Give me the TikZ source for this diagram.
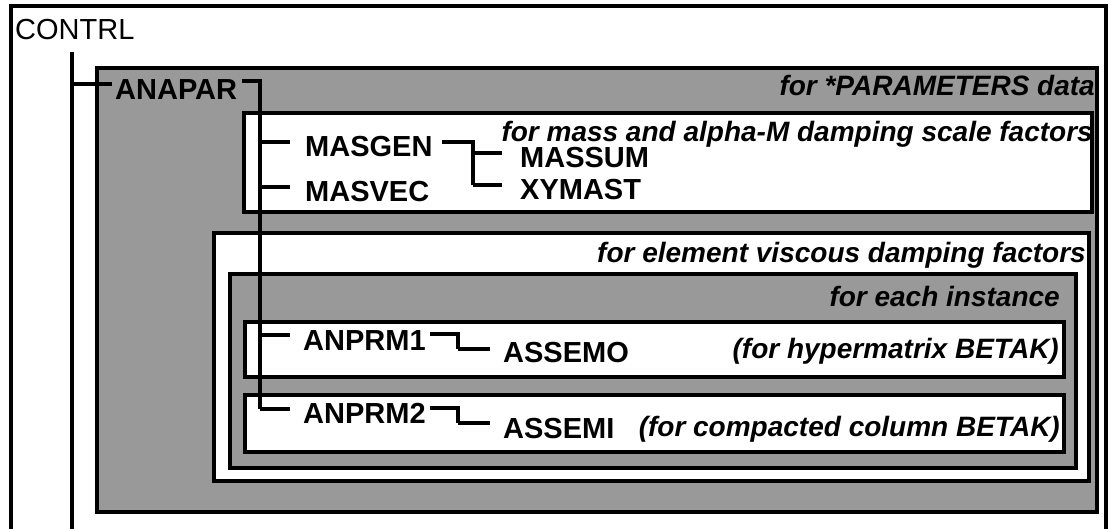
\documentclass[tikz,border=0pt]{standalone}
\usepackage{fontspec}
\setmainfont{Liberation Sans}
\begin{document}
\begin{tikzpicture}[x=1pt,y=-1pt,
  frame/.style={draw=black,line width=3.6pt},
  shadebox/.style={frame,fill=black!40},
  blankbox/.style={frame,fill=white},
  wire/.style={line width=3.2pt},
  modname/.style={font=\fontsize{29}{30}\selectfont\bfseries,inner sep=0pt,anchor=base west},
  topname/.style={font=\fontsize{29}{30}\selectfont,inner sep=0pt,anchor=base west},
  note/.style={font=\fontsize{28}{30}\selectfont\bfseries\itshape,inner sep=0pt,anchor=base east}]
\useasboundingbox (0,0) rectangle (1111,529);
\fill[white] (0,0) rectangle (1111,529);
% outer frame (open at the bottom)
\draw[frame,line width=3.2pt] (11,529) -- (11,6) -- (1106,6) -- (1106,529);
% boxes
\draw[shadebox] (97,68) rectangle (1097,512);
\draw[blankbox] (244,113) rectangle (1092,212);
\draw[blankbox] (214,233) rectangle (1089,481);
\draw[shadebox] (230,274) rectangle (1076,468);
\draw[blankbox] (245,322) rectangle (1064,377);
\draw[blankbox] (245,395) rectangle (1064,452);
% texts
\node[topname] (CONTRL) at (15,40) {CONTRL};
\node[modname] (ANAPAR) at (115,100) {ANAPAR};
\node[note] (nparam) at (1095,96) {for *PARAMETERS data};
\node[modname] (MASGEN) at (305,157) {MASGEN};
\node[modname] (MASVEC) at (305,202) {MASVEC};
\node[modname] (MASSUM) at (520,168) {MASSUM};
\node[modname] (XYMAST) at (520,200) {XYMAST};
\node[note] (nmass) at (1093,142) {for mass and alpha-M damping scale factors};
\node[note] (nelem) at (1086,263) {for element viscous damping factors};
\node[note] (ninst) at (1060,306) {for each instance};
\node[modname] (ANPRM1) at (303,350) {ANPRM1};
\node[modname] (ASSEMO) at (503,362) {ASSEMO};
\node[note] (nhyper) at (1059,359) {(for hypermatrix BETAK)};
\node[modname] (ANPRM2) at (303,423) {ANPRM2};
\node[modname] (ASSEMI) at (503,438) {ASSEMI};
\node[note] (ncomp) at (1060,436) {(for compacted column BETAK)};
% junction coordinates
\coordinate (cTop) at (72,52);
\coordinate (cBot) at (72,529);
\coordinate (cA) at (72,84);
\coordinate (aOut) at (242,81);
\coordinate (aBus) at (260,81);
\coordinate (aEnd) at (260,409);
\coordinate (jMG) at (260,142);
\coordinate (jMV) at (260,187);
\coordinate (jP1) at (260,335);
\coordinate (mOut) at (442,142);
\coordinate (mBus) at (473,142);
\coordinate (mS) at (473,153);
\coordinate (mX) at (473,185);
\coordinate (p1Out) at (430,334);
\coordinate (p1Bus) at (458,334);
\coordinate (p1In) at (458,349);
\coordinate (p2Out) at (430,408);
\coordinate (p2Bus) at (458,408);
\coordinate (p2In) at (458,423);
% connectors
\draw[wire] (cTop) -- (cBot);
\draw[wire,shorten >=3pt] (cA) -- (cA -| ANAPAR.west);
\draw[wire] (aOut) -- (aBus) -- (aEnd);
\draw[wire,shorten >=13pt] (aEnd) -- (aEnd -| ANPRM2.west);
\draw[wire,shorten >=15pt] (jMG) -- (jMG -| MASGEN.west);
\draw[wire,shorten >=15pt] (jMV) -- (jMV -| MASVEC.west);
\draw[wire,shorten >=13pt] (jP1) -- (jP1 -| ANPRM1.west);
\draw[wire] (mOut) -- (mBus) -- (mX);
\draw[wire,shorten >=18pt] (mS) -- (mS -| MASSUM.west);
\draw[wire,shorten >=18pt] (mX) -- (mX -| XYMAST.west);
\draw[wire] (p1Out) -- (p1Bus) -- (p1In);
\draw[wire,shorten >=13pt] (p1In) -- (p1In -| ASSEMO.west);
\draw[wire] (p2Out) -- (p2Bus) -- (p2In);
\draw[wire,shorten >=13pt] (p2In) -- (p2In -| ASSEMI.west);
\end{tikzpicture}
\end{document}
